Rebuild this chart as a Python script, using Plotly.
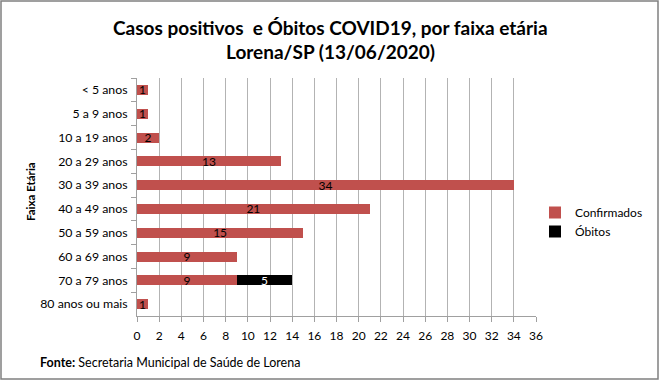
import plotly.graph_objects as go

categories = ["< 5 anos", "5 a 9 anos", "10 a 19 anos", "20 a 29 anos", "30 a 39 anos",
              "40 a 49 anos", "50 a 59 anos", "60 a 69 anos", "70 a 79 anos", "80 anos ou mais"]
confirmados = [1, 1, 2, 13, 34, 21, 15, 9, 9, 1]
obitos = [None, None, None, None, None, None, None, None, 5, None]
x_ticks = list(range(0, 37, 2))
title_lines = ["Casos positivos  e Óbitos COVID19, por faixa etária", "Lorena/SP (13/06/2020)"]

FONT = "Lato"
W, H = 660, 381
L, R, T, B = 137, 124, 78, 65
pw, ph = W - L - R, H - T - B

fig = go.Figure()
fig.add_trace(go.Bar(
    y=categories, x=confirmados, orientation="h", name="Confirmados",
    marker=dict(color="#C0504D", line=dict(width=0)),
    text=confirmados, textposition="inside", insidetextanchor="middle", textangle=0,
    constraintext="none", textfont=dict(color="black", size=12, family=FONT),
))
fig.add_trace(go.Bar(
    y=categories, x=obitos, orientation="h", name="Óbitos",
    marker=dict(color="black", line=dict(width=0)),
    text=[("" if v is None else v) for v in obitos], textposition="inside", textangle=0,
    insidetextanchor="middle", constraintext="none",
    textfont=dict(color="white", size=12, family=FONT),
))

def px(xp):
    return (xp - L) / pw

def py(yp):
    return (H - B - yp) / ph

fig.update_layout(
    width=W, height=H, barmode="stack", bargap=0.58,
    margin=dict(l=L, r=R, t=T, b=B, autoexpand=False),
    paper_bgcolor="white", plot_bgcolor="white",
    font=dict(family=FONT, size=11, color="black"),
    xaxis=dict(range=[0, 36], tickvals=x_ticks, showgrid=True, gridcolor="#B3B3B3",
               gridwidth=1, ticks="outside", ticklen=5, tickcolor="#A0A0A0",
               showline=True, linecolor="#A0A0A0", zeroline=False, ticklabelstandoff=4,
               tickfont=dict(size=12, family=FONT)),
    yaxis=dict(autorange="reversed", ticks="outside", tickson="boundaries", ticklen=5,
               tickcolor="#A0A0A0", showline=True, linecolor="#A0A0A0", ticklabelstandoff=6,
               tickfont=dict(size=12.3, family=FONT)),
    legend=dict(x=px(535), y=py(222), xanchor="left", yanchor="middle", traceorder="normal",
                font=dict(size=12, family=FONT), itemwidth=30, tracegroupgap=6,
                bgcolor="rgba(0,0,0,0)"),
    showlegend=True,
)

for i, (line, yp) in enumerate(zip(title_lines, [27, 52])):
    fig.add_annotation(text="<b>" + line + "</b>", xref="paper", yref="paper",
                       x=px(330), y=py(yp), xanchor="center", yanchor="middle",
                       showarrow=False, font=dict(size=19, family=FONT, color="black"))
fig.add_annotation(text="<b>Faixa Etária</b>", textangle=-90, xref="paper", yref="paper",
                   x=px(30), y=py(192), xanchor="center", yanchor="middle",
                   showarrow=False, font=dict(size=11.5, family=FONT))
fig.add_annotation(text="<b>Fonte:</b> Secretaria Municipal de Saúde de Lorena", xref="paper",
                   yref="paper", x=px(38), y=py(362), xanchor="left", yanchor="middle",
                   showarrow=False, font=dict(size=12.5, family=FONT))
fig.add_shape(type="rect", xref="paper", yref="paper", x0=px(1), x1=px(658), y0=py(379), y1=py(1),
              line=dict(color="#808080", width=1.5), layer="below")

fig.write_html("out.html", config={"displayModeBar": False},
               post_script="document.body.style.margin='0';")
